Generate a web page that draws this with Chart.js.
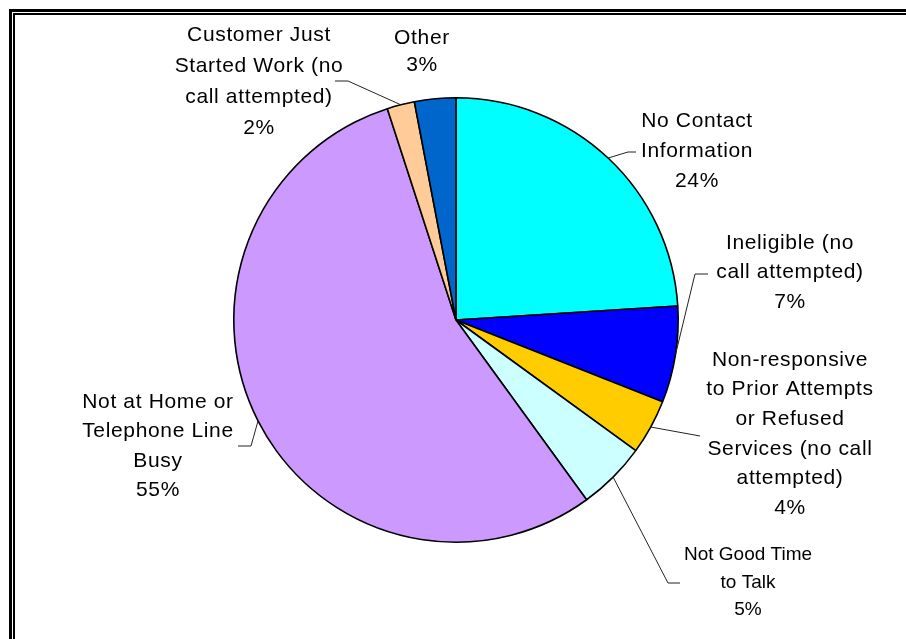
<!DOCTYPE html>
<html>
<head>
<meta charset="utf-8">
<title>Reasons no call was completed</title>
<script src="https://cdn.jsdelivr.net/npm/chart.js@4/dist/chart.umd.min.js"></script>
<style>
  html, body { margin: 0; padding: 0; background: #fff; }
  canvas { display: block; }
</style>
</head>
<body>
<canvas id="pie" width="906" height="639"></canvas>
<script>
// slices, clockwise from 12 o'clock
const categories = [
  "No Contact Information",
  "Ineligible (no call attempted)",
  "Non-responsive to Prior Attempts or Refused Services (no call attempted)",
  "Not Good Time to Talk",
  "Not at Home or Telephone Line Busy",
  "Customer Just Started Work (no call attempted)",
  "Other"
];
const shares = [24, 7, 4, 5, 55, 2, 3];
const sliceColors = ["#00FFFF", "#0000FF", "#FFCC00", "#CCFFFF", "#CC99FF", "#FFCC99", "#0066CC"];

// how each label wraps on the page
const labelLines = [
  ["No Contact", "Information"],
  ["Ineligible (no", "call attempted)"],
  ["Non-responsive", "to Prior Attempts", "or Refused", "Services (no call", "attempted)"],
  ["Not Good Time", "to Talk"],
  ["Not at Home or", "Telephone Line", "Busy"],
  ["Customer Just", "Started Work (no", "call attempted)"],
  ["Other"]
];

// label block placement: centre x, first line y, line gap, font size,
// tracking, and the leader path (elbow then end) – null where no leader is drawn
const labelLayout = [
  { x: 697, y: 121, gap: 30,   size: 21, track: 0.65, leader: [[628, 152], [636, 152]] },
  { x: 790, y: 243, gap: 29.5, size: 21, track: 0.65, leader: [[695, 274], [708, 274]] },
  { x: 790, y: 360, gap: 29.6, size: 21, track: 0.65, leader: [[700, 436]] },
  { x: 748, y: 555, gap: 27.5, size: 19, track: 0,    leader: [[668, 583], [680, 583]] },
  { x: 158, y: 402, gap: 29.4, size: 21, track: 0.65, leader: [[251, 446], [238, 446]] },
  { x: 259, y: 35,  gap: 31,   size: 21, track: 0.65, leader: [[348, 81], [335, 81]] },
  { x: 422, y: 38,  gap: 27,   size: 21, track: 0.65, leader: null }
];

// double rule along the top and left edges
const frame = {
  id: "frame",
  beforeDraw(chart) {
    const ctx = chart.ctx;
    const w = chart.width, h = chart.height;
    ctx.save();
    ctx.strokeStyle = "#000";
    ctx.lineWidth = 3;
    ctx.beginPath();
    ctx.moveTo(10.5, h);
    ctx.lineTo(10.5, 10.5);
    ctx.lineTo(w, 10.5);
    ctx.stroke();
    ctx.lineWidth = 2;
    ctx.beginPath();
    ctx.moveTo(14, h);
    ctx.lineTo(14, 14);
    ctx.lineTo(w, 14);
    ctx.stroke();
    ctx.restore();
  }
};

// leader lines + wrapped category labels with the percentage underneath
const sliceLabels = {
  id: "sliceLabels",
  afterDatasetsDraw(chart) {
    const ctx = chart.ctx;
    const meta = chart.getDatasetMeta(0);
    ctx.save();
    meta.data.forEach((arc, i) => {
      const p = arc.getProps(["x", "y", "startAngle", "endAngle", "outerRadius"], true);
      const mid = (p.startAngle + p.endAngle) / 2;
      const lay = labelLayout[i];

      if (lay.leader) {
        ctx.strokeStyle = "#222";
        ctx.lineWidth = 1;
        ctx.beginPath();
        ctx.moveTo(p.x + Math.cos(mid) * p.outerRadius, p.y + Math.sin(mid) * p.outerRadius);
        lay.leader.forEach(pt => ctx.lineTo(pt[0], pt[1]));
        ctx.stroke();
      }

      const lines = labelLines[i].concat([shares[i] + "%"]);
      ctx.fillStyle = "#000";
      ctx.font = lay.size + "px 'Liberation Sans', Arial, sans-serif";
      ctx.letterSpacing = lay.track + "px";
      ctx.textAlign = "center";
      ctx.textBaseline = "middle";
      lines.forEach((t, k) => ctx.fillText(t, lay.x, lay.y + k * lay.gap));
    });
    ctx.restore();
  }
};

new Chart(document.getElementById("pie"), {
  type: "pie",
  data: {
    labels: categories,
    datasets: [{
      data: shares,
      backgroundColor: sliceColors,
      borderColor: "#000",
      borderWidth: 1.6,
      hoverOffset: 0
    }]
  },
  options: {
    responsive: false,
    animation: false,
    layout: { padding: { left: 233, right: 227, top: 97, bottom: 96 } },
    plugins: {
      legend: { display: false },
      tooltip: { enabled: false }
    }
  },
  plugins: [frame, sliceLabels]
});
</script>
</body>
</html>
